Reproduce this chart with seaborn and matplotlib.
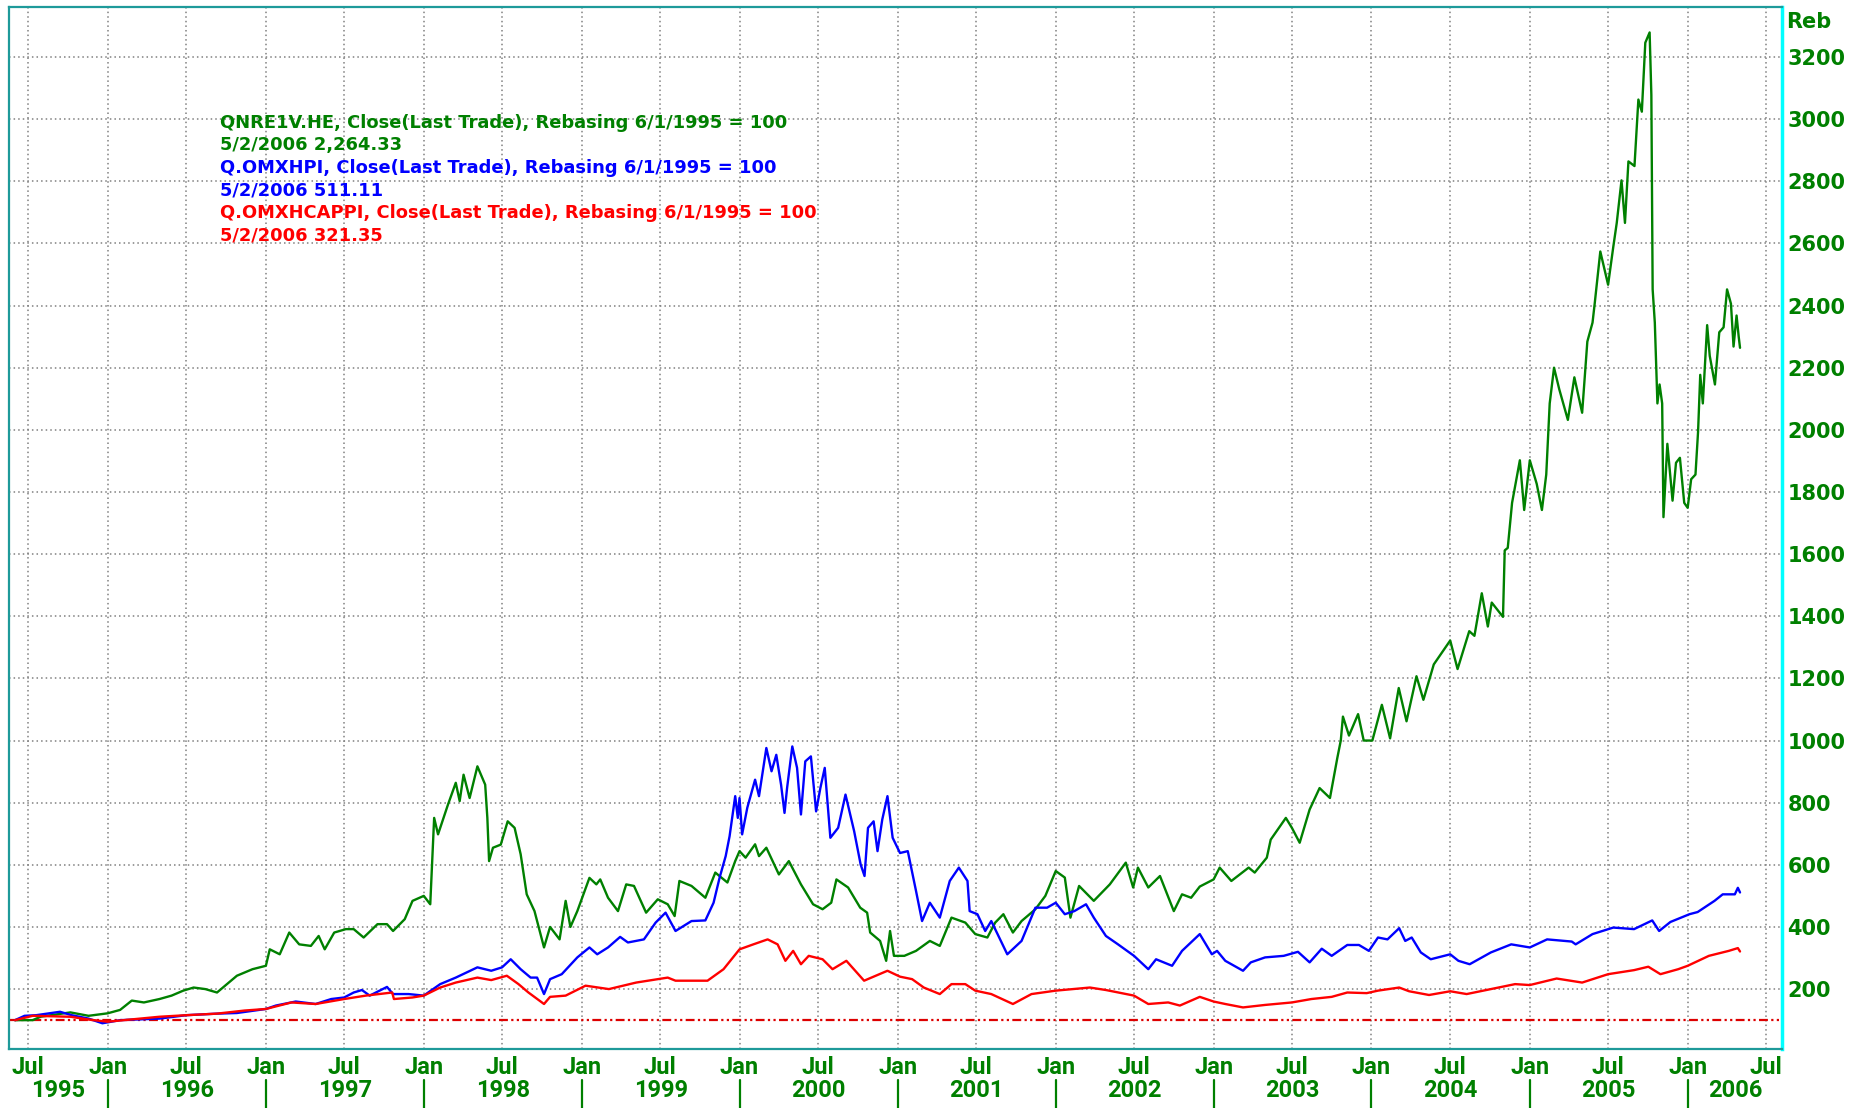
import matplotlib
matplotlib.use('Agg')
import matplotlib.pyplot as plt
import matplotlib.dates as mdates
import matplotlib.transforms as mtransforms
import pandas as pd
import seaborn as sns

# QNRE1V.HE (green), rebased 6/1/1995 = 100
green_dates = [
    '1995-06-01', '1995-07-12', '1995-07-30', '1995-10-07', '1995-11-18', '1996-01-01', '1996-01-30',
    '1996-02-26', '1996-03-25', '1996-04-30', '1996-05-28', '1996-06-24', '1996-07-18', '1996-08-14',
    '1996-09-10', '1996-10-03', '1996-10-26', '1996-12-01', '1997-01-01', '1997-01-10', '1997-02-02',
    '1997-02-24', '1997-03-19', '1997-04-15', '1997-05-03', '1997-05-17', '1997-06-08', '1997-07-05',
    '1997-07-23', '1997-08-15', '1997-09-16', '1997-10-08', '1997-10-22', '1997-11-18', '1997-12-06',
    '1998-01-01', '1998-01-16', '1998-01-25', '1998-02-03', '1998-02-26', '1998-03-16', '1998-03-25',
    '1998-04-03', '1998-04-17', '1998-05-05', '1998-05-23', '1998-05-28', '1998-06-01', '1998-06-10',
    '1998-06-28', '1998-07-14', '1998-07-30', '1998-08-13', '1998-08-27', '1998-09-14', '1998-10-06',
    '1998-10-20', '1998-11-11', '1998-11-25', '1998-12-06', '1998-12-22', '1999-01-19', '1999-02-04',
    '1999-02-13', '1999-03-03', '1999-03-26', '1999-04-14', '1999-05-02', '1999-05-30', '1999-06-26',
    '1999-07-19', '1999-08-04', '1999-08-15', '1999-09-12', '1999-10-14', '1999-11-06', '1999-12-04',
    '1999-12-22', '2000-01-01', '2000-01-15', '2000-02-06', '2000-02-15', '2000-03-03', '2000-04-01',
    '2000-04-24', '2000-05-22', '2000-06-19', '2000-07-11', '2000-07-31', '2000-08-12', '2000-09-08',
    '2000-10-06', '2000-10-22', '2000-10-29', '2000-11-21', '2000-12-05', '2000-12-14', '2000-12-23',
    '2001-01-16', '2001-02-12', '2001-03-16', '2001-04-08', '2001-05-05', '2001-06-06', '2001-06-29',
    '2001-07-27', '2001-08-14', '2001-09-02', '2001-09-24', '2001-10-14', '2001-11-15', '2001-12-08',
    '2002-01-01', '2002-01-22', '2002-02-04', '2002-02-24', '2002-03-30', '2002-05-06', '2002-06-12',
    '2002-06-29', '2002-07-10', '2002-08-03', '2002-08-30', '2002-10-01', '2002-10-20', '2002-11-10',
    '2002-11-30', '2003-01-01', '2003-01-15', '2003-02-11', '2003-03-23', '2003-04-06', '2003-05-04',
    '2003-05-13', '2003-06-17', '2003-07-01', '2003-07-19', '2003-08-11', '2003-09-03', '2003-09-27',
    '2003-10-14', '2003-10-22', '2003-10-27', '2003-11-10', '2003-12-01', '2003-12-14', '2004-01-03',
    '2004-01-25', '2004-02-13', '2004-03-04', '2004-03-22', '2004-04-14', '2004-04-30', '2004-05-24',
    '2004-07-01', '2004-07-18', '2004-08-14', '2004-08-26', '2004-09-12', '2004-09-26', '2004-10-05',
    '2004-10-31', '2004-11-04', '2004-11-11', '2004-11-21', '2004-12-09', '2004-12-19', '2005-01-01',
    '2005-01-17', '2005-01-29', '2005-02-08', '2005-02-16', '2005-02-26', '2005-03-10', '2005-03-30',
    '2005-04-14', '2005-05-02', '2005-05-14', '2005-05-26', '2005-05-31', '2005-06-13', '2005-07-01',
    '2005-07-13', '2005-07-21', '2005-08-01', '2005-08-09', '2005-08-17', '2005-08-31', '2005-09-09',
    '2005-09-17', '2005-09-25', '2005-10-05', '2005-10-09', '2005-10-12', '2005-10-17', '2005-10-23',
    '2005-10-28', '2005-11-03', '2005-11-06', '2005-11-15', '2005-11-27', '2005-12-05', '2005-12-14',
    '2005-12-24', '2006-01-01', '2006-01-09', '2006-01-19', '2006-01-25', '2006-01-30', '2006-02-05',
    '2006-02-15', '2006-02-21', '2006-03-05', '2006-03-15', '2006-03-25', '2006-04-02', '2006-04-11',
    '2006-04-17', '2006-04-24', '2006-04-29', '2006-05-02',
]
green_vals = [
    100, 100, 111, 125, 114, 122, 133,
    163, 157, 168, 179, 195, 205, 200,
    189, 216, 243, 264, 275, 328, 312,
    382, 344, 339, 371, 328, 382, 393,
    393, 366, 409, 409, 387, 425, 484,
    500, 473, 751, 698, 794, 864, 805,
    890, 815, 917, 858, 751, 612, 655,
    665, 740, 719, 634, 505, 451, 334,
    400, 360, 484, 400, 451, 558, 537,
    553, 494, 451, 537, 532, 446, 489,
    473, 435, 548, 532, 494, 575, 543,
    612, 644, 623, 666, 628, 655, 569,
    612, 537, 473, 457, 478, 553, 527,
    462, 446, 382, 355, 291, 387, 307,
    307, 323, 355, 339, 430, 414, 377,
    366, 414, 441, 382, 419, 457, 500,
    580, 559, 430, 532, 484, 537, 607,
    527, 591, 527, 564, 451, 505, 494,
    530, 553, 591, 548, 591, 575, 623,
    681, 751, 719, 671, 778, 847, 815,
    944, 1000, 1077, 1016, 1085, 1000, 1000,
    1115, 1007, 1169, 1062, 1207, 1131, 1245,
    1322, 1230, 1352, 1337, 1474, 1367, 1444,
    1398, 1612, 1620, 1765, 1902, 1742, 1902,
    1826, 1742, 1856, 2085, 2200, 2131, 2032,
    2169, 2055, 2284, 2345, 2406, 2574, 2467,
    2589, 2666, 2803, 2666, 2864, 2849, 3063,
    3024, 3246, 3279, 3078, 2452, 2345, 2085,
    2146, 2085, 1719, 1955, 1772, 1894, 1910,
    1765, 1749, 1841, 1856, 1994, 2177, 2085,
    2337, 2238, 2146, 2314, 2330, 2452, 2406,
    2268, 2368, 2299, 2264,
]

# Q.OMXHPI (blue)
blue_dates = [
    '1995-06-01', '1995-06-23', '1995-07-20', '1995-09-13', '1995-10-10', '1995-11-18', '1995-12-20',
    '1996-01-30', '1996-04-30', '1996-07-01', '1996-09-10', '1996-10-26', '1997-01-01', '1997-01-24',
    '1997-03-11', '1997-04-26', '1997-06-01', '1997-07-01', '1997-07-23', '1997-08-11', '1997-08-29',
    '1997-10-08', '1997-10-22', '1997-11-27', '1998-01-01', '1998-02-08', '1998-03-16', '1998-05-05',
    '1998-06-06', '1998-07-01', '1998-07-21', '1998-08-13', '1998-09-05', '1998-09-20', '1998-10-06',
    '1998-10-20', '1998-11-16', '1998-12-22', '1999-01-19', '1999-02-06', '1999-03-03', '1999-03-31',
    '1999-04-18', '1999-05-25', '1999-06-21', '1999-07-14', '1999-08-06', '1999-09-12', '1999-10-14',
    '1999-11-02', '1999-11-16', '1999-11-30', '1999-12-09', '1999-12-22', '1999-12-28', '2000-01-01',
    '2000-01-07', '2000-01-19', '2000-02-06', '2000-02-15', '2000-03-03', '2000-03-15', '2000-03-26',
    '2000-04-06', '2000-04-14', '2000-04-20', '2000-05-02', '2000-05-13', '2000-05-22', '2000-06-01',
    '2000-06-14', '2000-06-26', '2000-07-06', '2000-07-16', '2000-07-29', '2000-08-16', '2000-09-02',
    '2000-09-22', '2000-10-07', '2000-10-16', '2000-10-24', '2000-11-06', '2000-11-15', '2000-11-26',
    '2000-12-08', '2000-12-20', '2001-01-06', '2001-01-24', '2001-02-12', '2001-02-26', '2001-03-16',
    '2001-04-08', '2001-05-01', '2001-05-22', '2001-06-11', '2001-06-16', '2001-07-04', '2001-07-22',
    '2001-08-05', '2001-09-11', '2001-10-14', '2001-11-15', '2001-12-12', '2002-01-01', '2002-01-22',
    '2002-02-13', '2002-03-12', '2002-03-30', '2002-04-27', '2002-05-25', '2002-07-01', '2002-08-03',
    '2002-08-21', '2002-09-27', '2002-10-20', '2002-11-30', '2002-12-28', '2003-01-09', '2003-01-28',
    '2003-03-10', '2003-03-28', '2003-04-30', '2003-06-12', '2003-07-15', '2003-08-11', '2003-09-08',
    '2003-10-01', '2003-11-06', '2003-12-03', '2003-12-26', '2004-01-16', '2004-02-07', '2004-03-05',
    '2004-03-19', '2004-04-03', '2004-04-24', '2004-05-17', '2004-07-01', '2004-07-20', '2004-08-15',
    '2004-10-03', '2004-11-19', '2005-01-01', '2005-02-10', '2005-04-08', '2005-04-17', '2005-05-26',
    '2005-07-13', '2005-08-30', '2005-10-11', '2005-10-27', '2005-11-22', '2006-01-05', '2006-01-24',
    '2006-03-04', '2006-03-23', '2006-04-20', '2006-04-27', '2006-05-02',
]
blue_vals = [
    100, 114, 116, 127, 116, 105, 90,
    100, 105, 116, 121, 123, 136, 147,
    160, 152, 168, 173, 189, 197, 179,
    207, 184, 184, 179, 216, 237, 270,
    259, 270, 296, 264, 237, 237, 184,
    232, 248, 302, 334, 312, 334, 368,
    350, 360, 414, 446, 387, 419, 421,
    478, 559, 628, 692, 821, 751, 815,
    698, 784, 874, 821, 976, 901, 954,
    858, 767, 848, 981, 912, 762, 933,
    949, 772, 848, 912, 687, 719, 826,
    708, 601, 564, 719, 740, 644, 746,
    821, 687, 638, 644, 516, 419, 478,
    430, 548, 591, 548, 451, 441, 387,
    419, 312, 355, 462, 462, 478, 441,
    451, 473, 430, 371, 344, 307, 264,
    296, 275, 323, 377, 312, 323, 291,
    259, 286, 302, 307, 320, 286, 330,
    307, 342, 342, 323, 366, 360, 396,
    355, 366, 318, 296, 312, 291, 280,
    318, 344, 334, 360, 353, 344, 377,
    398, 393, 421, 387, 416, 441, 448,
    484, 505, 505, 526, 511,
]

# Q.OMXHCAPPI (red)
red_dates = [
    '1995-06-01', '1995-07-12', '1995-10-07', '1995-11-18', '1996-01-01', '1996-03-16', '1996-04-30',
    '1996-07-01', '1996-09-10', '1996-11-13', '1997-01-01', '1997-03-01', '1997-04-26', '1997-07-01',
    '1997-08-20', '1997-10-20', '1997-10-24', '1997-12-06', '1998-01-01', '1998-02-08', '1998-03-16',
    '1998-05-05', '1998-06-06', '1998-07-12', '1998-08-08', '1998-08-31', '1998-10-06', '1998-10-20',
    '1998-11-25', '1999-01-10', '1999-03-05', '1999-05-07', '1999-07-19', '1999-08-06', '1999-10-19',
    '1999-11-25', '2000-01-01', '2000-02-02', '2000-03-06', '2000-03-29', '2000-04-16', '2000-05-04',
    '2000-05-22', '2000-06-09', '2000-07-11', '2000-08-03', '2000-09-04', '2000-10-15', '2000-12-08',
    '2001-01-06', '2001-02-03', '2001-03-02', '2001-04-08', '2001-05-05', '2001-06-06', '2001-06-29',
    '2001-08-05', '2001-09-24', '2001-11-06', '2002-01-01', '2002-03-21', '2002-04-27', '2002-07-01',
    '2002-08-03', '2002-09-18', '2002-10-15', '2002-11-30', '2003-01-01', '2003-01-28', '2003-03-10',
    '2003-04-30', '2003-07-01', '2003-08-15', '2003-10-01', '2003-11-06', '2003-12-21', '2004-01-16',
    '2004-03-05', '2004-03-28', '2004-05-13', '2004-07-01', '2004-08-08', '2004-10-03', '2004-11-28',
    '2005-01-01', '2005-03-04', '2005-05-02', '2005-07-01', '2005-08-30', '2005-10-02', '2005-10-30',
    '2005-12-10', '2006-01-01', '2006-02-19', '2006-04-06', '2006-04-27', '2006-05-02',
]
red_vals = [
    100, 114, 111, 102, 95, 105, 111,
    116, 121, 131, 136, 157, 152, 168,
    179, 189, 168, 173, 179, 205, 221,
    237, 229, 243, 216, 189, 152, 175,
    179, 211, 200, 221, 237, 227, 227,
    264, 328, 344, 360, 344, 291, 323,
    280, 307, 296, 264, 291, 227, 259,
    240, 232, 205, 184, 216, 216, 195,
    184, 152, 184, 195, 205, 197, 179,
    152, 157, 147, 175, 160, 152, 141,
    149, 157, 168, 175, 189, 187, 195,
    205, 193, 181, 193, 184, 200, 216,
    213, 234, 221, 248, 261, 272, 248,
    264, 275, 307, 323, 332, 321,
]

legend_lines = [
    ('QNRE1V.HE, Close(Last Trade), Rebasing 6/1/1995 = 100', '#008000'),
    ('5/2/2006 2,264.33', '#008000'),
    ('Q.OMXHPI, Close(Last Trade), Rebasing 6/1/1995 = 100', '#0000ff'),
    ('5/2/2006 511.11', '#0000ff'),
    ('Q.OMXHCAPPI, Close(Last Trade), Rebasing 6/1/1995 = 100', '#ff0000'),
    ('5/2/2006 321.35', '#ff0000'),
]
y_ticks = list(range(200, 3201, 200))
years = list(range(1995, 2007))

sns.set_style('white')
plt.rcParams['font.family'] = ['DejaVu Sans']

GREEN = '#008000'
fig = plt.figure(figsize=(18.64, 11.08), dpi=100)
ax = fig.add_axes([0.0048, 0.0532, 0.9512, 0.9405])

sns.lineplot(x=pd.to_datetime(green_dates), y=green_vals, color='#008000', lw=1.7, ax=ax, estimator=None)
sns.lineplot(x=pd.to_datetime(blue_dates), y=blue_vals, color='#0000ff', lw=1.7, ax=ax, estimator=None)
sns.lineplot(x=pd.to_datetime(red_dates), y=red_vals, color='#ff0000', lw=1.7, ax=ax, estimator=None)

# rebasing level
ax.axhline(100, color='#dd0000', lw=1.6, ls=(0, (4, 1.5, 1, 1.5, 1, 1.5)), zorder=1)

x_start = pd.Timestamp('1995-05-18')
x_end = pd.Timestamp('2006-08-07')
ax.set_xlim(x_start, x_end)
ax.set_ylim(7, 3361)

# y axis on the right
ax.yaxis.tick_right()
ax.set_yticks(y_ticks)
ax.set_yticklabels([str(v) for v in y_ticks])
ax.tick_params(axis='y', length=0, pad=4, labelsize=15, labelcolor=GREEN)
for lab in ax.get_yticklabels():
    lab.set_fontweight('bold')
ax.text(1.0023, 0.9856, 'Reb', transform=ax.transAxes, ha='left', va='center',
        fontsize=15, fontweight='bold', color=GREEN)

# half-year ticks
half_years = pd.date_range('1995-07-01', '2006-07-01', freq='6MS')
ax.set_xticks(half_years)
ax.set_xticklabels(['Jan' if d.month == 1 else 'Jul' for d in half_years],
                   fontsize=17, fontweight='bold', color=GREEN, family='Roboto')
ax.tick_params(axis='x', which='major', length=0, pad=5)
jans = pd.date_range('1996-01-01', '2006-01-01', freq='YS')
ax.set_xticks(jans, minor=True)
ax.tick_params(axis='x', which='minor', length=7.5, width=1.6, color=GREEN, direction='out')

# year row
trans = mtransforms.blended_transform_factory(ax.transData, ax.transAxes)
for yr in years:
    lo = max(pd.Timestamp(f'{yr}-01-01'), x_start)
    hi = min(pd.Timestamp(f'{yr + 1}-01-01'), x_end)
    mid = lo + (hi - lo) / 2
    ax.text(mid, -0.0393, str(yr), transform=trans, ha='center', va='center',
            fontsize=17, fontweight='bold', color=GREEN, family='Roboto')
for d in jans:
    ax.plot([d, d], [-0.0298, -0.057], transform=trans, color=GREEN, lw=1.6, clip_on=False)

ax.grid(True, which='major', color='#808080', ls=(0, (1, 2)), lw=1.1)

for side in ['left', 'bottom', 'top']:
    ax.spines[side].set_color('#1e9a9a')
    ax.spines[side].set_linewidth(1.6)
ax.spines['right'].set_color('#00ffff')
ax.spines['right'].set_linewidth(2.5)

for i, (txt, col) in enumerate(legend_lines):
    ax.text(0.1188, 0.889 - i * 0.0217, txt, transform=ax.transAxes, ha='left', va='center',
            fontsize=12.85, fontweight='bold', color=col)

ax.set_xlabel('')
ax.set_ylabel('')
fig.savefig('out.png', dpi=100)
